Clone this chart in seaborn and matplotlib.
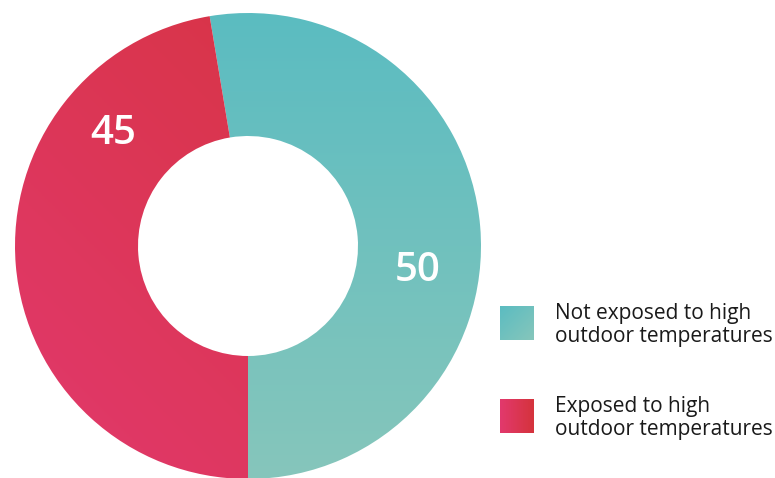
import numpy as np
import matplotlib
matplotlib.use("Agg")
import matplotlib.pyplot as plt
from matplotlib.colors import LinearSegmentedColormap
import seaborn as sns

# Survey shares
categories = ["Not exposed to high\noutdoor temperatures",
              "Exposed to high\noutdoor temperatures"]
values = [50, 45]
value_labels = ["50", "45"]

# Gradient end colours per category (start -> end)
gradients = [("#5bbcc1", "#86c6bb"), ("#d5333c", "#e2396d")]

sns.set_theme(style="white")
plt.rcParams["font.family"] = ["Open Sans", "DejaVu Sans"]

W, H = 775, 478
fig = plt.figure(figsize=(W / 100, H / 100), dpi=100)
fig.patch.set_facecolor("white")

cx, cy, R = 248, 246, 233
ax = fig.add_axes([(cx - R) / W, (H - cy - R) / H, 2 * R / W, 2 * R / H])

inner = 110 / R
wedges, _ = ax.pie(values, startangle=270, counterclock=True, radius=1,
                   wedgeprops=dict(width=1 - inner, linewidth=0, edgecolor="none"))
ax.set_aspect("equal")
ax.axis("off")

n = 300
gx, gy = np.meshgrid(np.linspace(-1, 1, n), np.linspace(1, -1, n))
# teal: darker on top, lighter towards the bottom
t_teal = (1 - gy) / 2
# red: redder to the upper right, pinker to the lower left
t_red = np.clip(((-gx) + (-gy)) / 2 * 0.5 + 0.5, 0, 1)
fields = [t_teal, t_red]

for w, (c0, c1), field in zip(wedges, gradients, fields):
    cmap = LinearSegmentedColormap.from_list("g", [c0, c1])
    w.set_facecolor("none")
    im = ax.imshow(field, cmap=cmap, extent=[-1, 1, -1, 1], vmin=0, vmax=1,
                   interpolation="bilinear", zorder=0.5)
    im.set_clip_path(w)
ax.set_xlim(-1, 1)
ax.set_ylim(-1, 1)

# value labels
label_pos = [(418, 271), (113, 134)]
for (px, py), txt in zip(label_pos, value_labels):
    fig.text(px / W, 1 - py / H, txt, color="white", fontsize=29,
             fontweight="semibold", ha="center", va="center", zorder=5)

# legend: gradient squares with two-line labels
sq = 34
sq_tops = [306, 399]
for top, (c0, c1), txt, kind in zip(sq_tops, gradients, categories, ["teal", "red"]):
    lax = fig.add_axes([500 / W, 1 - (top + sq) / H, sq / W, sq / H])
    lx, ly = np.meshgrid(np.linspace(0, 1, 50), np.linspace(0, 1, 50))
    if kind == "teal":
        f = (lx + ly) / 2
    else:
        f = 1 - lx
    cmap = LinearSegmentedColormap.from_list("g", [c0, c1])
    lax.imshow(f, cmap=cmap, vmin=0, vmax=1, extent=[0, 1, 0, 1], aspect="auto")
    lax.axis("off")
    fig.text(555 / W, 1 - (top + 19) / H, txt, color="#1a1a1a", fontsize=15,
             ha="left", va="center", linespacing=1.12)

fig.savefig("out.png", dpi=100, facecolor="white")
